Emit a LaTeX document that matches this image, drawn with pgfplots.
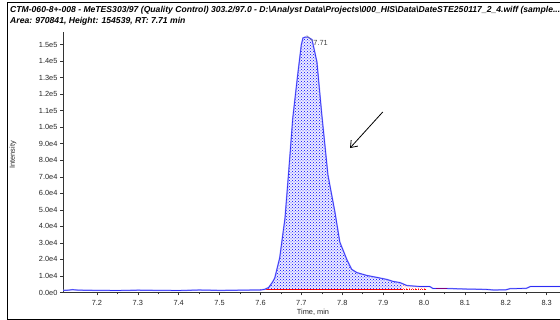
\documentclass[border=0pt]{standalone}
\usepackage{fontspec}
\setmainfont{Liberation Sans}
\usepackage{pgfplots}
\pgfplotsset{compat=1.18}
\usetikzlibrary{patterns,arrows.meta}
\definecolor{trace}{RGB}{45,45,245}
\definecolor{lighttrace}{RGB}{150,150,255}
\begin{document}
\begin{tikzpicture}[x=1pt,y=1pt]
\path[use as bounding box] (0,0) rectangle (560,320);
\clip (0,0) rectangle (560,320);
\draw[line width=0.9pt] (7,1) rectangle (600,317.5);
\node[anchor=base west,inner sep=0pt,font=\fontsize{8.6}{10}\selectfont\bfseries\itshape] at (10,307.5)
 {CTM-060-8+-008 - MeTES303/97 (Quality Control) 303.2/97.0 - D:\textbackslash Analyst Data\textbackslash Projects\textbackslash 000\_HIS\textbackslash Data\textbackslash DateSTE250117\_2\_4.wiff (sample...};
\node[anchor=base west,inner sep=0pt,font=\fontsize{8.6}{10}\selectfont\bfseries\itshape] at (10,296.5)
 {Area: 970841, Height: 154539, RT: 7.71 min};
\begin{axis}[
  at={(63pt,27.5pt)}, anchor=south west,
  scale only axis, width=498pt, height=260.5pt,
  xmin=7.117, xmax=8.335, ymin=0, ymax=157600,
  axis x line*=bottom, axis y line*=left,
  axis line style={-, line width=0.6pt, black!80},
  tick align=outside, major tick length=3pt, minor tick length=2pt,
  tick style={black!80, line width=0.5pt},
  xtick={7.2,7.3,7.4,7.5,7.6,7.7,7.8,7.9,8.0,8.1,8.2,8.3},
  xticklabels={7.2,7.3,7.4,7.5,7.6,7.7,7.8,7.9,8.0,8.1,8.2,8.3},
  minor x tick num=1,
  ytick={0,10000,20000,30000,40000,50000,60000,70000,80000,90000,100000,110000,120000,130000,140000,150000},
  yticklabels={0.0e0,1.0e4,2.0e4,3.0e4,4.0e4,5.0e4,6.0e4,7.0e4,8.0e4,9.0e4,1.0e5,1.1e5,1.2e5,1.3e5,1.4e5,1.5e5},
  ticklabel style={font=\fontsize{7.4}{8}\selectfont, text=black!85},
  xticklabel style={yshift=-1pt},
  yticklabel style={xshift=1pt},
  scaled ticks=false,
  /pgf/number format/assume math mode=true,
  clip=true,
]
% shaded peak area (between trace and drawn baseline)
\addplot[draw=none, fill=blue!7] coordinates {
(7.600,1800) (7.610,1900) (7.620,3000) (7.630,6500) (7.635,8800) (7.647,20900)
(7.660,45000) (7.669,73000) (7.679,105500) (7.691,131600) (7.700,150000) (7.704,154000)
(7.710,154539) (7.716,154500) (7.726,153000) (7.738,139500) (7.750,107400) (7.765,71000)
(7.782,48700) (7.794,30500) (7.811,20000) (7.823,14000) (7.836,12000) (7.860,10300)
(7.885,9100) (7.909,7900) (7.924,6700) (7.941,6000) (7.946,5600) (7.946,1800)
} -- cycle;
\addplot[draw=none, pattern=crosshatch dots, pattern color=blue] coordinates {
(7.600,1800) (7.610,1900) (7.620,3000) (7.630,6500) (7.635,8800) (7.647,20900)
(7.660,45000) (7.669,73000) (7.679,105500) (7.691,131600) (7.700,150000) (7.704,154000)
(7.710,154539) (7.716,154500) (7.726,153000) (7.738,139500) (7.750,107400) (7.765,71000)
(7.782,48700) (7.794,30500) (7.811,20000) (7.823,14000) (7.836,12000) (7.860,10300)
(7.885,9100) (7.909,7900) (7.924,6700) (7.941,6000) (7.946,5600) (7.946,1800)
} -- cycle;
\addplot[draw=none, pattern=crosshatch dots, pattern color=red!60] coordinates {
(7.946,5600) (7.958,4200) (7.990,3600) (8.007,3600) (8.007,1800) (7.946,1800)
} -- cycle;
% baseline drawn under the peak
\addplot[red, line width=0.8pt] coordinates {(7.600,1800) (7.946,1800)};
\addplot[red, line width=0.8pt, densely dotted] coordinates {(7.946,1800) (8.007,1800)};
% trace
\addplot[lighttrace, line width=1.4pt] coordinates {
(7.117,1300) (7.130,1400) (7.140,1700) (7.150,1500) (7.160,1400) (7.200,1300)
(7.250,1200) (7.300,1400) (7.350,1300) (7.400,1200) (7.450,1500) (7.500,1300)
(7.550,1400) (7.580,1500) (7.600,1500) (7.610,1900) (7.620,3000) (7.630,6500)
(7.635,8800) (7.647,20900) (7.660,45000) (7.669,73000) (7.679,105500) (7.691,131600)
(7.700,150000) (7.704,154000) (7.710,154539) (7.716,154500) (7.726,153000) (7.738,139500)
(7.750,107400) (7.765,71000) (7.782,48700) (7.794,30500) (7.811,20000) (7.823,14000)
(7.836,12000) (7.860,10300) (7.885,9100) (7.909,7900) (7.924,6700) (7.941,6000)
(7.958,4200) (7.990,3600) (8.014,3600) (8.022,2400) (8.056,2400) (8.100,2100)
(8.150,1900) (8.170,1500) (8.200,1600) (8.210,2300) (8.250,2500) (8.260,3600)
(8.300,3600) (8.335,3600)
};
\addplot[trace, line width=0.6pt] coordinates {
(7.117,1300) (7.130,1400) (7.140,1700) (7.150,1500) (7.160,1400) (7.200,1300)
(7.250,1200) (7.300,1400) (7.350,1300) (7.400,1200) (7.450,1500) (7.500,1300)
(7.550,1400) (7.580,1500) (7.600,1500) (7.610,1900) (7.620,3000) (7.630,6500)
(7.635,8800) (7.647,20900) (7.660,45000) (7.669,73000) (7.679,105500) (7.691,131600)
(7.700,150000) (7.704,154000) (7.710,154539) (7.716,154500) (7.726,153000) (7.738,139500)
(7.750,107400) (7.765,71000) (7.782,48700) (7.794,30500) (7.811,20000) (7.823,14000)
(7.836,12000) (7.860,10300) (7.885,9100) (7.909,7900) (7.924,6700) (7.941,6000)
(7.958,4200) (7.990,3600) (8.014,3600) (8.022,2400) (8.056,2400) (8.100,2100)
(8.150,1900) (8.170,1500) (8.200,1600) (8.210,2300) (8.250,2500) (8.260,3600)
(8.300,3600) (8.335,3600)
};
\addplot[violet, line width=1pt] coordinates {(8.030,2500) (8.055,2500)};
% peak annotation
\draw[gray, line width=0.4pt] (axis cs:7.713,155500) -- (axis cs:7.728,152000);
\node[anchor=west, inner sep=0pt, font=\fontsize{7.4}{8}\selectfont, text=black!75] at (axis cs:7.729,151000) {7.71};
\draw[line width=0.8pt, -{Straight Barb[length=6pt,width=9pt]}] (axis cs:7.899,109200) -- (axis cs:7.819,87400);
\end{axis}
\node[font=\fontsize{7.4}{8}\selectfont, text=black!85] at (313,8) {Time, min};
\node[rotate=90, font=\fontsize{7.4}{8}\selectfont, text=black!85] at (13,165) {Intensity};
\end{tikzpicture}
\end{document}
